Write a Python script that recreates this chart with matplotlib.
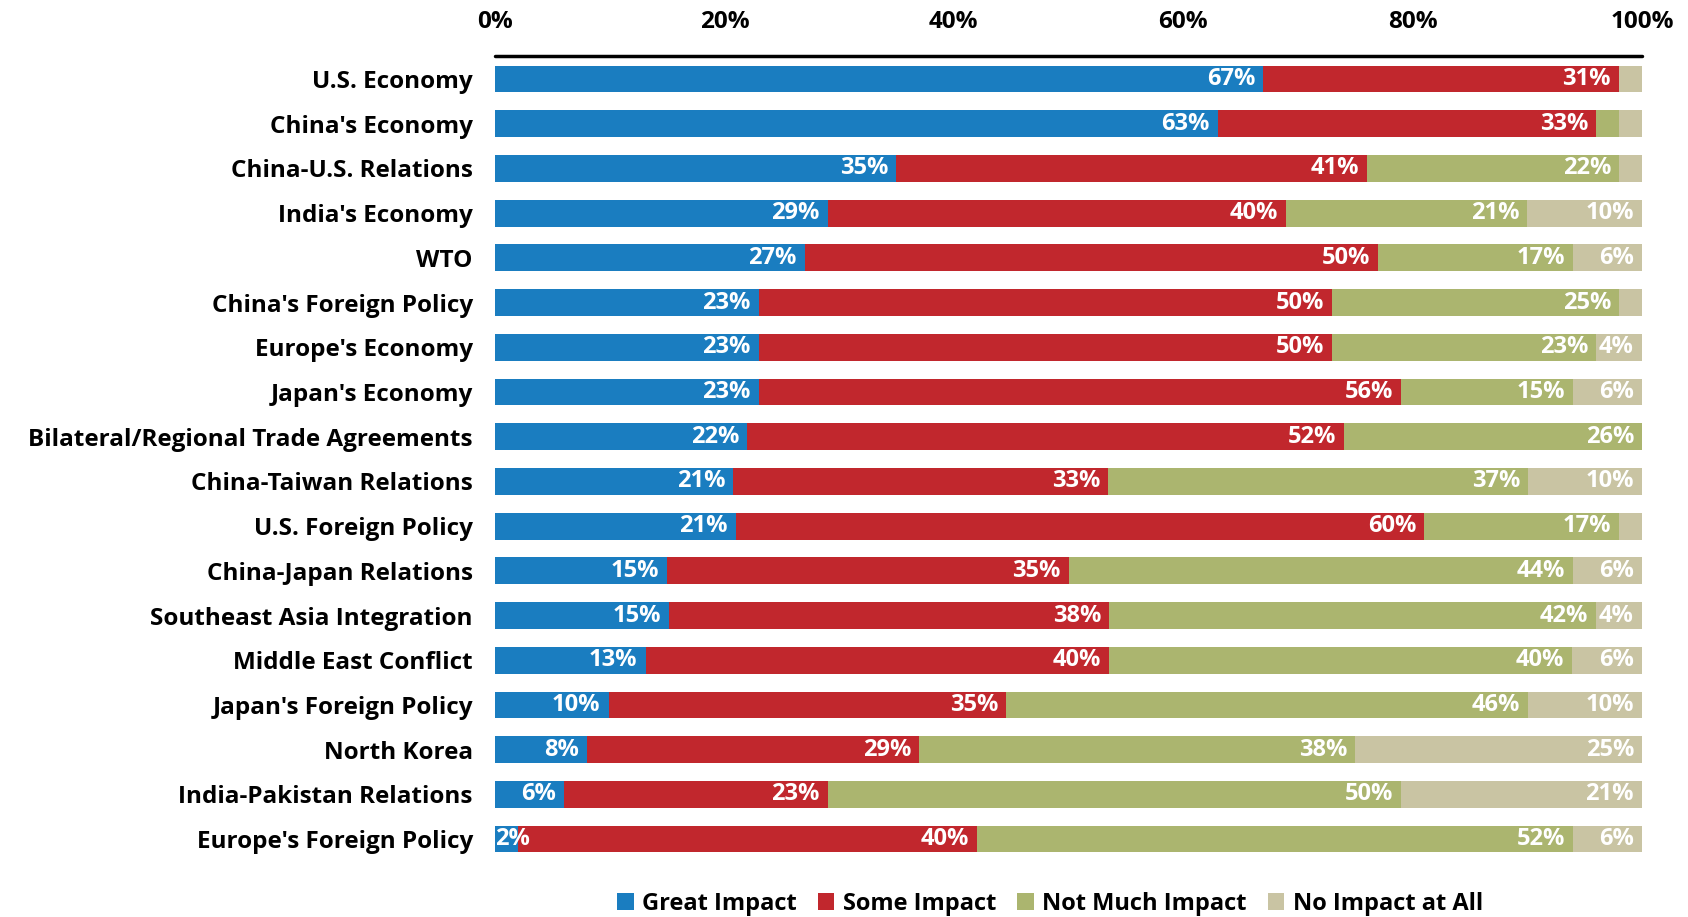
import matplotlib
matplotlib.use("Agg")
import matplotlib.pyplot as plt
import numpy as np

plt.rcParams['font.family'] = ['Open Sans', 'DejaVu Sans']

categories = [
    "U.S. Economy", "China's Economy", "China-U.S. Relations", "India's Economy",
    "WTO", "China's Foreign Policy", "Europe's Economy", "Japan's Economy",
    "Bilateral/Regional Trade Agreements", "China-Taiwan Relations",
    "U.S. Foreign Policy", "China-Japan Relations", "Southeast Asia Integration",
    "Middle East Conflict", "Japan's Foreign Policy", "North Korea",
    "India-Pakistan Relations", "Europe's Foreign Policy",
]
great_impact = [67, 63, 35, 29, 27, 23, 23, 23, 22, 21, 21, 15, 15, 13, 10, 8, 6, 2]
some_impact = [31, 33, 41, 40, 50, 50, 50, 56, 52, 33, 60, 35, 38, 40, 35, 29, 23, 40]
not_much_impact = [0, 2, 22, 21, 17, 25, 23, 15, 26, 37, 17, 44, 42, 40, 46, 38, 50, 52]
no_impact = [2, 2, 2, 10, 6, 2, 4, 6, 0, 10, 2, 6, 4, 6, 10, 25, 21, 6]

series_names = ["Great Impact", "Some Impact", "Not Much Impact", "No Impact at All"]
colors = ["#1a7dc0", "#c1272d", "#abb56f", "#c9c4a3"]

data = np.array([great_impact, some_impact, not_much_impact, no_impact], dtype=float)
shares = data / data.sum(axis=0) * 100  # each row as a 100% stacked bar

fig = plt.figure(figsize=(16.88, 9.17), dpi=100)
ax = fig.add_axes([495 / 1688, 1 - 852.5 / 917, (1642 - 495) / 1688, (852.5 - 56) / 917])

y = np.arange(len(categories))
left = np.zeros(len(categories))
for k, (name, col) in enumerate(zip(series_names, colors)):
    ax.barh(y, shares[k], left=left, height=0.6, color=col, label=name, linewidth=0)
    for i in range(len(categories)):
        v = data[k, i]
        if v >= 2 and (v >= 4 or k == 0):
            end = left[i] + shares[k, i]
            if shares[k, i] < 3:
                ax.text(left[i], y[i], f"{int(v)}%", ha="left", va="center",
                        color="white", fontsize=17, fontweight="bold")
            else:
                ax.text(end - 0.7, y[i], f"{int(v)}%", ha="right", va="center",
                        color="white", fontsize=17, fontweight="bold")
    left += shares[k]

ax.set_xlim(0, 100)
ax.set_ylim(17.3, -0.514)
ax.set_yticks(y)
ax.set_yticklabels(categories, fontsize=17.5, fontweight="bold")
ax.set_xticks(np.arange(0, 101, 20))
ax.set_xticklabels([f"{t}%" for t in range(0, 101, 20)], fontsize=17.5, fontweight="bold")
ax.xaxis.tick_top()
ax.tick_params(axis="x", length=0, pad=16)
ax.tick_params(axis="y", length=0, pad=16)
for s in ["right", "left", "bottom"]:
    ax.spines[s].set_visible(False)
ax.spines["top"].set_linewidth(2.5)
ax.spines["top"].set_capstyle("round")

fig.legend(loc="center", bbox_to_anchor=(1050 / 1688, 1 - 904 / 917), ncol=4,
           frameon=False, handlelength=0.7, handleheight=0.7,
           handletextpad=0.35, columnspacing=0.9,
           prop={"weight": "bold", "size": 17})

fig.savefig("out.png", dpi=100)
